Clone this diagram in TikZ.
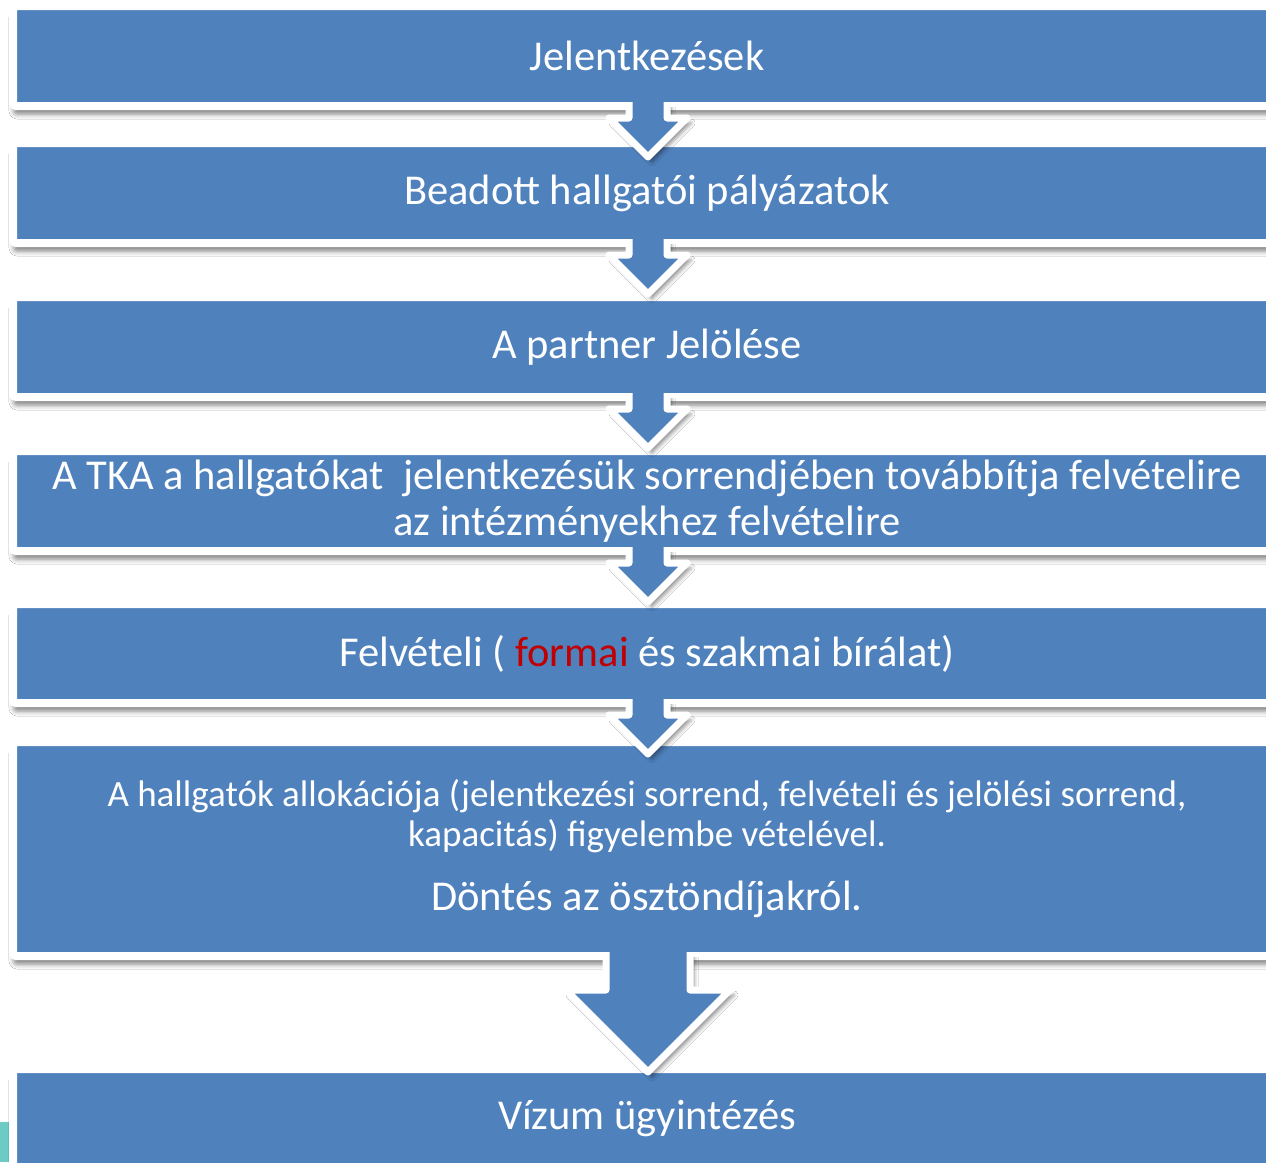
\documentclass[tikz,border=0pt]{standalone}
\usepackage{fontspec}
\setmainfont{Carlito}
\usetikzlibrary{calc,shadows.blur}

\definecolor{boxblue}{HTML}{4F81BD}
\definecolor{markred}{HTML}{C00000}
\definecolor{edgeteal}{HTML}{6CCBC4}

\tikzset{
  stepbox/.style={rectangle, fill=boxblue, draw=white, line width=8pt,
    rounded corners=3pt, minimum width=1268pt, minimum height=100pt,
    outer sep=0pt, inner sep=0pt, text=white, align=center,
    font=\fontsize{42.5}{46}\selectfont,
    blur shadow={shadow xshift=1pt, shadow yshift=-8pt,
      shadow blur radius=5pt, shadow opacity=50}},
  downarrow/.style={fill=boxblue, draw=white, line width=7pt, line join=round,
    blur shadow={shadow xshift=4pt, shadow yshift=-5pt,
      shadow blur radius=4pt, shadow opacity=45}},
}

\begin{document}
\begin{tikzpicture}[x=1pt,y=-1pt]

  \useasboundingbox (0,0) rectangle (1266,1162);
  \clip (0,0) rectangle (1266,1162);
  \fill[white] (0,0) rectangle (1266,1162);
  \fill[edgeteal] (0,1122) rectangle (9,1162);

  % the steps
  \node[stepbox] (b1) at (647,56)  {Jelentkezések};
  \node[stepbox] (b2) at (647,193) {Beadott hallgatói pályázatok};
  \node[stepbox] (b3) at (647,347) {A partner Jelölése};
  \node[stepbox] (b4) at (647,501) {A TKA a hallgatókat~ jelentkezésük sorrendjében továbbítja felvételire\\az intézményekhez felvételire};
  \node[stepbox, minimum height=99pt] (b5) at (647,653.5) {Felvételi ( \textcolor{markred}{formai} és szakmai bírálat)};
  \node[stepbox, minimum height=214pt, font=\fontsize{37}{40}\selectfont] (b6) at (647,849)
    {A hallgatók allokációja (jelentkezési sorrend, felvételi és jelölési sorrend,\\kapacitás) figyelembe vételével.\\[24pt]{\fontsize{42.5}{46}\selectfont Döntés az ösztöndíjakról.}};
  \node[stepbox] (b7) at (647,1119) {Vízum ügyintézés};

  % arrows between the steps
  \foreach \a in {b1,b2,b3,b4,b5}
    \path[downarrow] ($(\a.south)+(-18,-4)$) -- ++(0,16) -- ++(-20,0)
      -- ++(39,39) -- ++(39,-39) -- ++(-20,0) -- ++(0,-16);
  \path[downarrow] ($(b6.south)+(-41,-4)$) -- ++(0,38) -- ++(-40,0)
    -- ++(82,82) -- ++(82,-82) -- ++(-40,0) -- ++(0,-38);

\end{tikzpicture}
\end{document}
